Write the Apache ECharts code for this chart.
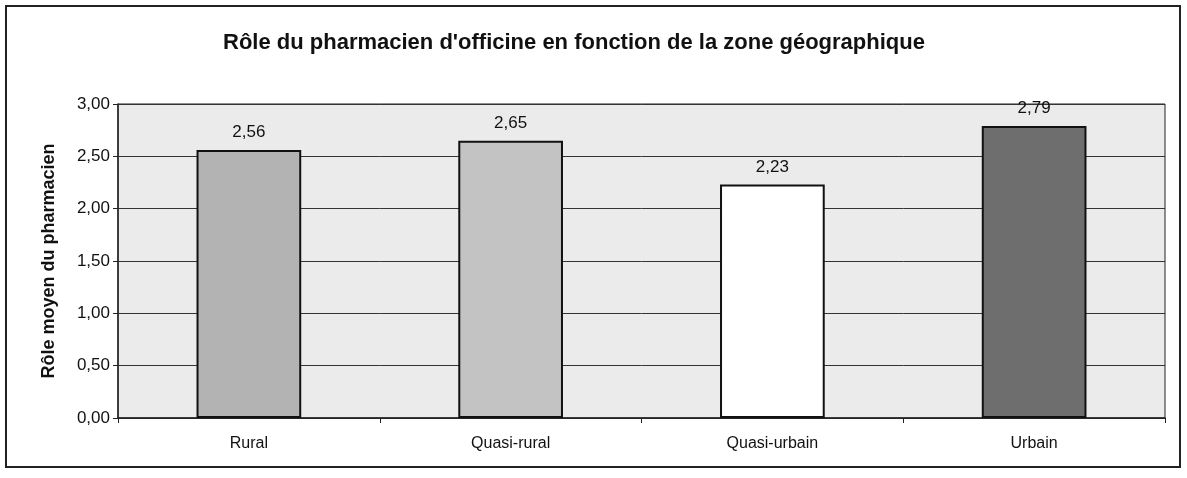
<!DOCTYPE html>
<html>
<head>
<meta charset="utf-8">
<script src="https://cdn.jsdelivr.net/npm/echarts@6/dist/echarts.min.js"></script>
<style>
  html, body { margin: 0; padding: 0; background: #fff; }
  #frame { position: absolute; left: 5px; top: 5px; width: 1176px; height: 463px; border: 2px solid #222; box-sizing: border-box; }
  #chart { width: 1187px; height: 478px; }
</style>
</head>
<body>
<div id="frame"></div>
<div id="chart"></div>
<script>
const zones = ["Rural", "Quasi-rural", "Quasi-urbain", "Urbain"];
const roleMoyen = [2.56, 2.65, 2.23, 2.79];
const barColors = ["#b3b3b3", "#c3c3c3", "#ffffff", "#6e6e6e"];

const fmt = v => v.toFixed(2).replace(".", ",");

const chart = echarts.init(document.getElementById("chart"));
chart.setOption({
    animation: false,
    title: {
        text: "Rôle du pharmacien d'officine en fonction de la zone géographique",
        left: 218,
        top: 27,
        textStyle: { fontFamily: "Liberation Sans", fontSize: 22, fontWeight: "bold", color: "#111" }
    },
    grid: {
        left: 118, right: 22, top: 104, bottom: 60,
        show: true, backgroundColor: "#ebebeb", borderColor: "#222", borderWidth: 1
    },
    xAxis: {
        type: "category",
        data: zones,
        axisLine: { lineStyle: { color: "#222", width: 1.5 } },
        axisTick: { show: true, length: 5, lineStyle: { color: "#222" } },
        axisLabel: { color: "#111", fontFamily: "Liberation Sans", fontSize: 16, margin: 18 }
    },
    yAxis: {
        type: "value",
        min: 0, max: 3, interval: 0.5,
        name: "Rôle moyen du pharmacien",
        nameLocation: "middle",
        nameGap: 60,
        nameTextStyle: { fontFamily: "Liberation Sans", fontSize: 18, fontWeight: "bold", color: "#111" },
        axisLine: { show: true, lineStyle: { color: "#222", width: 1.5 } },
        axisTick: { show: true, length: 5, lineStyle: { color: "#222" } },
        axisLabel: { color: "#111", fontFamily: "Liberation Sans", fontSize: 17, margin: 8, formatter: v => fmt(v) },
        splitLine: { lineStyle: { color: "#333", width: 1 } }
    },
    series: [{
        type: "bar",
        barWidth: "40%",
        data: roleMoyen.map((v, i) => ({
            value: v,
            itemStyle: { color: barColors[i], borderColor: "#111", borderWidth: 2 }
        })),
        label: {
            show: true, position: "top", distance: 9,
            color: "#111", fontFamily: "Liberation Sans", fontSize: 17,
            formatter: p => fmt(p.value)
        }
    }]
});
</script>
</body>
</html>
